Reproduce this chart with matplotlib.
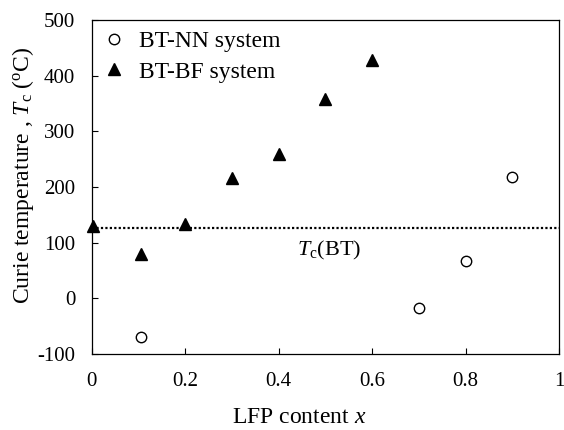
import matplotlib
matplotlib.use("Agg")
import matplotlib.pyplot as plt

plt.rcParams["font.family"] = ["Liberation Serif", "DejaVu Serif"]
plt.rcParams["mathtext.fontset"] = "custom"
plt.rcParams["mathtext.it"] = "Liberation Serif:italic"
plt.rcParams["mathtext.rm"] = "Liberation Serif"
plt.rcParams["axes.unicode_minus"] = False

# data
nn_x = [0.105, 0.7, 0.8, 0.9]
nn_y = [-69, -17, 67, 218]
bf_x = [0.003, 0.105, 0.2, 0.3, 0.4, 0.5, 0.6]
bf_y = [130, 80, 133, 217, 260, 358, 428]
tc_bt = 127

xticks = [0, 0.2, 0.4, 0.6, 0.8, 1]
xtick_labels = ["0", "0.2", "0.4", "0.6", "0.8", "1"]
yticks = [-100, 0, 100, 200, 300, 400, 500]

fig = plt.figure(figsize=(5.64, 4.30), dpi=100)
ax = fig.add_axes([0.163, 0.1767, 0.828, 0.7768])

ax.plot(nn_x, nn_y, linestyle="none", marker="o", markersize=7.5,
        markerfacecolor="white", markeredgecolor="black", markeredgewidth=1.0,
        label="BT-NN system", clip_on=False)
ax.plot(bf_x, bf_y, linestyle="none", marker="^", markersize=8,
        color="black", label="BT-BF system", clip_on=False)
ax.axhline(tc_bt, color="black", linestyle=(0, (1, 1)), linewidth=1.6)
ax.text(0.44, 86, r"$T_{\mathrm{c}}$(BT)", fontsize=16, ha="left", va="center")

ax.set_xlim(0, 1)
ax.set_ylim(-100, 500)
ax.set_xticks(xticks)
ax.set_xticklabels(xtick_labels)
ax.set_yticks(yticks)
ax.tick_params(direction="in", labelsize=15, length=4, width=0.8)
ax.tick_params(axis="x", pad=13)
ax.tick_params(axis="y", pad=12)
for s in ax.spines.values():
    s.set_linewidth(0.9)

ax.set_xlabel(r"LFP content $x$", fontsize=17)
ax.set_ylabel(r"Curie temperature , $T_{\mathrm{c}}$ ($^{\mathrm{o}}$C)", fontsize=17)
ax.xaxis.set_label_coords(0.443, -0.19, transform=ax.transAxes)
ax.xaxis.label.set_va("center")
ax.yaxis.set_label_coords(-0.148, 0.536, transform=ax.transAxes)
ax.yaxis.label.set_va("center")

ax.legend(loc="upper left", frameon=False, fontsize=17, handletextpad=0.55,
          borderaxespad=0.05, labelspacing=0.38, handlelength=1.0,
          bbox_to_anchor=(0.0, 1.0))

fig.savefig("out.png", dpi=100)
